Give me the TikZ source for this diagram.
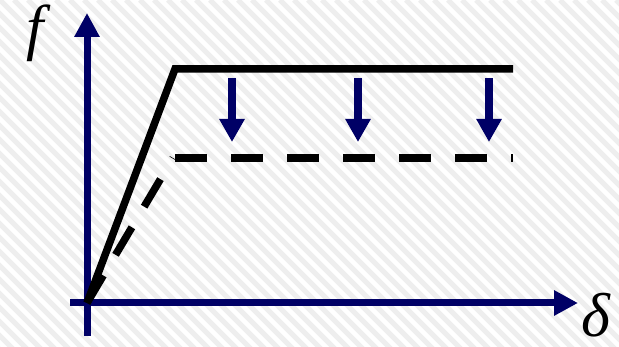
\documentclass[tikz,border=0pt]{standalone}
\usepackage{fontspec}
\setmainfont{Liberation Serif}
\usetikzlibrary{arrows.meta}
\definecolor{axisblue}{RGB}{0,0,102}
\definecolor{stripegray}{RGB}{238,238,238}
\begin{document}
\begin{tikzpicture}[x=1pt,y=-1pt,
  axis/.style={draw=axisblue, line width=7pt,
    -{Triangle[width=24pt,length=24pt]}, fill=axisblue},
  load/.style={draw=axisblue, line width=8pt,
    -{Triangle[width=24pt,length=23pt]}, fill=axisblue},
  curve/.style={draw=black, line width=7.5pt, line join=miter},
  softened/.style={curve, dash pattern=on 32pt off 24pt},
  lbl/.style={inner sep=0pt, font=\fontsize{62}{62}\selectfont\itshape}]

  % canvas and hatched background
  \useasboundingbox (0,0) rectangle (619,347);
  \fill[white] (0,0) rectangle (619,347);
  \begin{scope}
    \clip (0,0) rectangle (619,347);
    \foreach \k in {-364,-350,...,630}
      \draw[stripegray, line width=5pt] (\k,0) -- ++(360,360);
  \end{scope}

  % key points
  \coordinate (O) at (87,303);
  \coordinate (ybot) at (87,336);
  \coordinate (ytop) at (87,13);
  \coordinate (xleft) at (70,303);
  \coordinate (xright) at (578,303);
  \coordinate (yieldA) at (175,69);
  \coordinate (endA) at (513,69);
  \coordinate (yieldB) at (173,158);
  \coordinate (startB) at (175,158);
  \coordinate (endB) at (513,158);

  % axes
  \draw[axis] (ybot) -- (ytop);
  \draw[axis] (xleft) -- (xright);

  % original response
  \draw[curve] (O) -- (yieldA) -- (endA);

  % degraded response
  \draw[softened] (O) -- (yieldB);
  \draw[softened] (startB) -- (endB);

  % reduction arrows
  \foreach \x/\n in {232/a,358/b,489/c}{
    \coordinate (top\n) at (\x,78);
    \coordinate (tip\n) at (\x,142);
    \draw[load] (top\n) -- (tip\n);
  }

  % axis labels
  \node[lbl] (flab) at (35.5,33.5) {f};
  \node[lbl] (dlab) at (596,315) {δ};
\end{tikzpicture}
\end{document}
